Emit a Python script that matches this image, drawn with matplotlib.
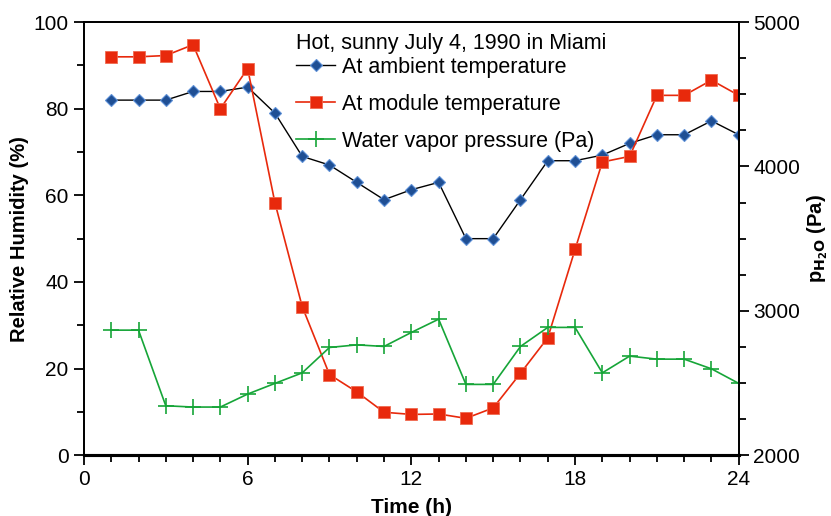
import matplotlib
matplotlib.use("Agg")
import matplotlib.pyplot as plt
from matplotlib.ticker import MultipleLocator

plt.rcParams["font.family"] = ["Liberation Sans", "DejaVu Sans"]

hours = list(range(1, 25))
rh_ambient = [82, 82, 82, 84, 84, 85, 79, 69, 67, 63, 59, 61.3, 63, 50, 50, 59,
              68, 68, 69.3, 72, 74, 74, 77.2, 74]
rh_module = [92, 92, 92.3, 94.8, 80, 89.3, 58.3, 34.3, 18.6, 14.6, 9.9, 9.4, 9.5,
             8.5, 10.9, 18.9, 27.1, 47.5, 67.7, 69, 83.1, 83.1, 86.6, 83.1]
p_h2o = [2866, 2866, 2342, 2333, 2333, 2423, 2497, 2570, 2746, 2764, 2753, 2850,
         2942, 2490, 2490, 2753, 2885, 2885, 2570, 2686, 2665, 2665, 2598, 2497]

fig = plt.figure(figsize=(8.31, 5.16), dpi=100)
ax = fig.add_axes([0.101, 0.118, 0.788, 0.839])
ax2 = ax.twinx()

l1, = ax.plot(hours, rh_ambient, color="black", lw=1, marker="D", ms=6,
              mfc="#1f4f94", mec="#5b8fd6", mew=0.8, label="At ambient temperature")
l2, = ax.plot(hours, rh_module, color="#e8290c", lw=1.2, marker="s", ms=9,
              mfc="#e8290c", mec="#f06a50", mew=0.6, label="At module temperature")
l3, = ax2.plot(hours, p_h2o, color="#16a538", lw=1.2, marker="+", ms=11, mew=1.2,
               label="Water vapor pressure (Pa)")

ax.set_xlim(0, 24)
ax.set_ylim(0, 100)
ax2.set_ylim(2000, 5000)
ax.xaxis.set_major_locator(MultipleLocator(6))
ax.xaxis.set_minor_locator(MultipleLocator(1))
ax.yaxis.set_major_locator(MultipleLocator(20))
ax.yaxis.set_minor_locator(MultipleLocator(10))
ax2.yaxis.set_major_locator(MultipleLocator(1000))
ax2.yaxis.set_minor_locator(MultipleLocator(250))

for a in (ax, ax2):
    a.tick_params(which="major", direction="out", length=7, width=1.3, labelsize=15)
    a.tick_params(which="minor", direction="out", length=5, width=1.3)
    for s in a.spines.values():
        s.set_linewidth(1.3)
ax.spines["bottom"].set_linewidth(2.2)
ax2.spines["bottom"].set_linewidth(2.2)
ax.tick_params(axis="y", pad=4)

ax.set_xlabel("Time (h)", fontsize=15, fontweight="bold", labelpad=7)
ax.set_ylabel("Relative Humidity (%)", fontsize=14.5, fontweight="bold", labelpad=3)
ax2.set_ylabel(r"p$_{\mathbf{H_2O}}$ (Pa)", fontsize=14.5, fontweight="bold", labelpad=4)

leg = ax.legend(handles=[l1, l2, l3], title="Hot, sunny July 4, 1990 in Miami",
                loc="upper left", bbox_to_anchor=(0.308, 1.0), frameon=False,
                fontsize=15.5, title_fontsize=15.5, handlelength=1.8, handletextpad=0.3,
                labelspacing=0.75, borderaxespad=0.1)
leg._legend_box.align = "left"
leg._legend_box.sep = 2

fig.savefig("out.png", dpi=100)
